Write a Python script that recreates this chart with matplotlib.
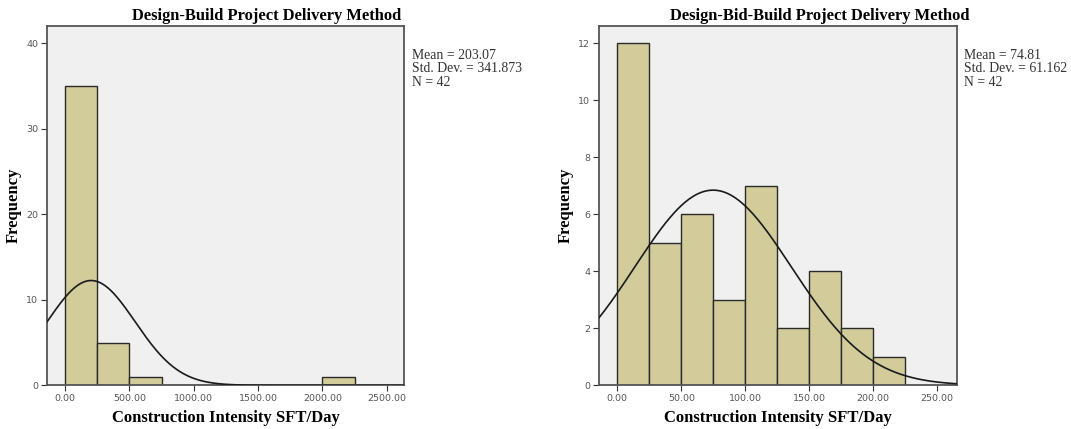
import numpy as np
import matplotlib
matplotlib.use("Agg")
import matplotlib.pyplot as plt

# histogram data
db_edges = [0, 250, 500, 750, 1000, 1250, 1500, 1750, 2000, 2250]
db_counts = [35, 5, 1, 0, 0, 0, 0, 0, 1]
db_mean, db_sd, db_n = 203.07, 341.873, 42

dbb_edges = [0, 25, 50, 75, 100, 125, 150, 175, 200, 225]
dbb_counts = [12, 5, 6, 3, 7, 2, 4, 2, 1]
dbb_mean, dbb_sd, dbb_n = 74.81, 61.162, 42

db_xticks = [0, 500, 1000, 1500, 2000, 2500]
db_yticks = [0, 10, 20, 30, 40]
dbb_xticks = [0, 50, 100, 150, 200, 250]
dbb_yticks = [0, 2, 4, 6, 8, 10, 12]

bar_color = "#d1cc99"
serif = "Liberation Serif"


def hist_panel(ax, edges, counts, mean, sd, n, xlim, ylim, xticks, yticks, title, stats_txt):
    ax.set_facecolor("#f0f0f0")
    widths = np.diff(edges)
    ax.bar(edges[:-1], counts, width=widths, align="edge", color=bar_color,
           edgecolor="#2a2a2a", linewidth=1.0, zorder=2)
    # normal curve scaled to the histogram
    x = np.linspace(xlim[0], xlim[1], 400)
    bw = widths[0]
    y = n * bw / (sd * np.sqrt(2 * np.pi)) * np.exp(-0.5 * ((x - mean) / sd) ** 2)
    ax.plot(x, y, color="#1a1a1a", linewidth=1.2, zorder=3)
    ax.set_xlim(*xlim)
    ax.set_ylim(*ylim)
    ax.set_xticks(xticks)
    ax.set_xticklabels([f"{t:.2f}" for t in xticks])
    ax.set_yticks(yticks)
    ax.tick_params(direction="out", length=4, width=0.8, colors="#333333",
                   labelsize=6.8, labelcolor="#555555", pad=2.5)
    for s in ax.spines.values():
        s.set_color("#555555")
        s.set_linewidth(1.3)
    ax.set_xlabel("Construction Intensity SFT/Day", family=serif, fontweight="bold",
                  fontsize=12, labelpad=5)
    ax.set_ylabel("Frequency", family=serif, fontweight="bold", fontsize=12, labelpad=3)
    ax.text(0.616, 1.005, title, transform=ax.transAxes, ha="center", va="bottom",
            family=serif, fontweight="bold", fontsize=11.9)
    ax.text(1.0216, 0.937, stats_txt, transform=ax.transAxes, ha="left", va="top",
            family=serif, fontsize=9.9, linespacing=1.05, color="#333333")


fig = plt.figure(figsize=(10.71, 4.29), dpi=100)
ax1 = fig.add_axes([0.04416, 0.1019, 0.3331, 0.8375])
ax2 = fig.add_axes([0.5596, 0.1019, 0.3337, 0.8375])

hist_panel(ax1, db_edges, db_counts, db_mean, db_sd, db_n, (-137.5, 2634), (0, 42.02),
           db_xticks, db_yticks, "Design-Build Project Delivery Method",
           f"Mean = {db_mean:.2f}\nStd. Dev. = {db_sd:.3f}\nN = {db_n}")
hist_panel(ax2, dbb_edges, dbb_counts, dbb_mean, dbb_sd, dbb_n, (-14.06, 265.2), (0, 12.61),
           dbb_xticks, dbb_yticks, "Design-Bid-Build Project Delivery Method",
           f"Mean = {dbb_mean:.2f}\nStd. Dev. = {dbb_sd:.3f}\nN = {dbb_n}")

fig.savefig("out.png", dpi=100, facecolor="white")
